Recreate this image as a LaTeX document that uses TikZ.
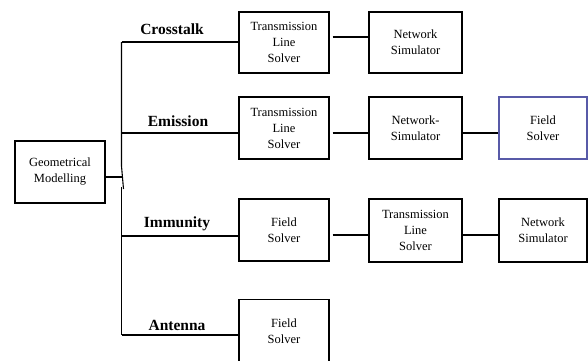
\documentclass[tikz,border=0pt]{standalone}
\usepackage{fontspec}
\setmainfont{Liberation Serif}
\begin{document}
\begin{tikzpicture}[x=1pt,y=-1pt,
  box/.style={draw=black,line width=1.1pt,rectangle,inner sep=0pt,align=center,
    font=\fontsize{12.5}{16}\selectfont},
  lbl/.style={font=\fontsize{15.5}{18}\selectfont\bfseries,inner sep=0pt},
  wire/.style={line width=1.1pt}]
\clip (0,0) rectangle (588,360);
\fill[white] (0,0) rectangle (588,360);
% root
\node[box,minimum width=90pt,minimum height=62pt] (gm) at (60,172) {Geometrical\\Modelling};
% column 1
\node[box,minimum width=90pt,minimum height=61pt] (c1) at (284,42.5) {Transmission\\Line\\Solver};
\node[box,minimum width=90pt,minimum height=62pt] (e1) at (284,128) {Transmission\\Line\\Solver};
\node[box,minimum width=90pt,minimum height=62pt] (i1) at (284,230) {Field\\Solver};
\node[box,minimum width=90pt,minimum height=63pt] (a1) at (284,331) {Field\\Solver};
% column 2
\node[box,minimum width=93pt,minimum height=61pt] (c2) at (415.5,42.5) {Network\\Simulator};
\node[box,minimum width=93pt,minimum height=62pt] (e2) at (415.5,128) {Network-\\Simulator};
\node[box,minimum width=93pt,minimum height=63pt] (i2) at (415.5,230.5) {Transmission\\Line\\Solver};
% column 3
\node[box,draw={rgb,255:red,88;green,90;blue,168},minimum width=88pt,minimum height=62pt] (e3) at (543,128) {Field\\Solver};
\node[box,minimum width=88pt,minimum height=63pt] (i3) at (543,230.5) {Network\\Simulator};
% trunk
\coordinate (tt) at (121.5,42);
\coordinate (tj1) at (121.5,166);
\coordinate (tj2) at (123.5,189);
\coordinate (tj3) at (121.5,187);
\coordinate (tb) at (121.5,335);
\draw[wire] (tt) -- (tj1) -- (tj2);
\draw[wire] (tj3) -- (tb);
\draw[wire] (gm.east |- 0,177) -- (122.5,177);
% branches
\draw[wire] (tt) -- (c1.west |- tt);
\draw[wire] (121.5,133) -- (e1.west |- 0,133);
\draw[wire] (121.5,236) -- (i1.west |- 0,236);
\draw[wire] (tb) -- (a1.west |- tb);
% labels
\node[lbl] at (172,29) {Crosstalk};
\node[lbl] at (178,121) {Emission};
\node[lbl] at (177,224) {Immunity};
\node[lbl] at (177,325) {Antenna};
% links
\draw[wire] ([xshift=3pt]c1.east |- 0,37) -- (c2.west |- 0,37);
\draw[wire] ([xshift=3pt]e1.east |- 0,133) -- (e2.west |- 0,133);
\draw[wire] ([xshift=3pt]i1.east |- 0,235) -- (i2.west |- 0,235);
\draw[wire] (e2.east |- 0,133) -- (e3.west |- 0,133);
\draw[wire] (i2.east |- 0,235) -- (i3.west |- 0,235);
\end{tikzpicture}
\end{document}
